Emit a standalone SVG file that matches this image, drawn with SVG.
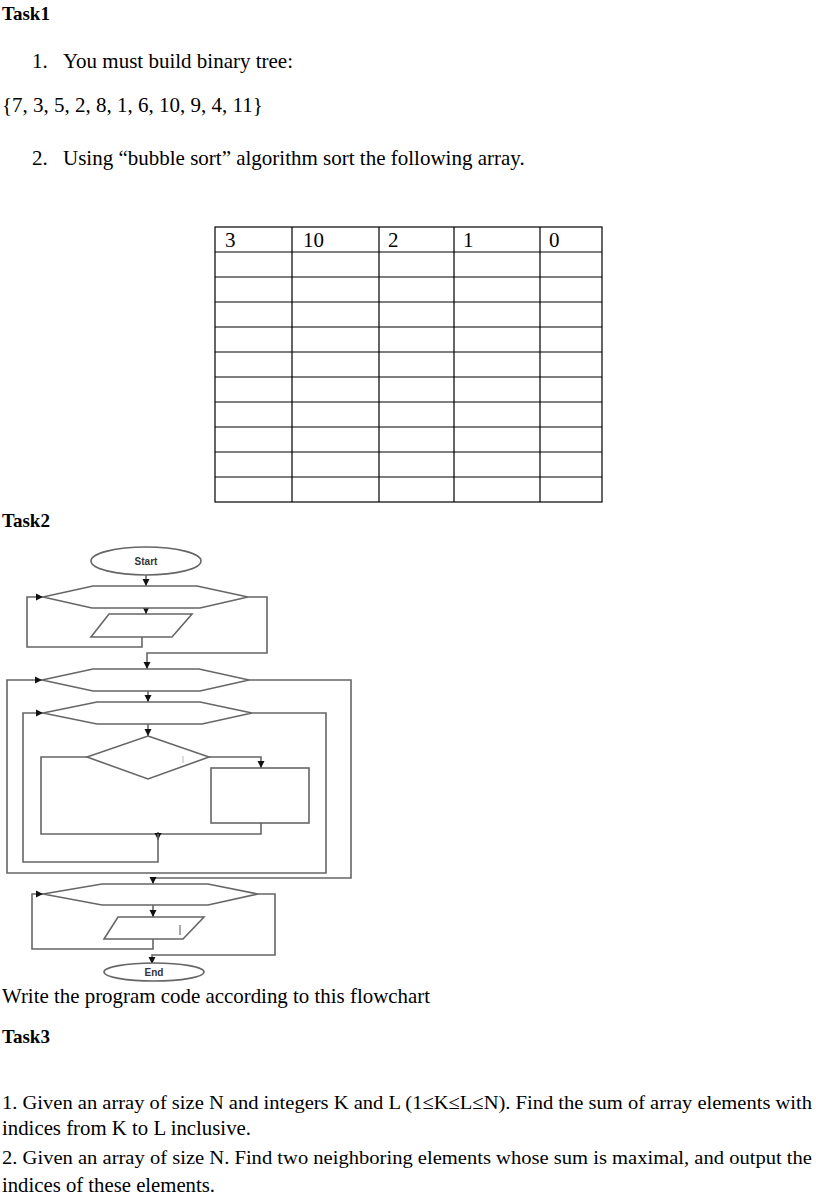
<svg xmlns="http://www.w3.org/2000/svg" width="816" height="1201" viewBox="0 0 816 1201">
<defs>
<marker id="ah" markerUnits="userSpaceOnUse" markerWidth="8" markerHeight="8" refX="7" refY="4" orient="auto">
<path d="M0,0.5 L7,4 L0,7.5 z" fill="#111"/>
</marker>
<style>
.t{font-family:"Liberation Serif","Times New Roman",serif;font-size:21px;fill:#000}
.b{font-family:"Liberation Serif","Times New Roman",serif;font-size:19px;font-weight:bold;fill:#000}
.c{font-family:"Liberation Serif","Times New Roman",serif;font-size:22px;fill:#000}
.c2{font-family:"Liberation Serif","Times New Roman",serif;font-size:19.5px;fill:#000}
.grid{stroke:#000;stroke-width:1.2;fill:none}
.sh{fill:#fff;stroke:#666;stroke-width:1.6}
.cn{fill:none;stroke:#666;stroke-width:1.6;marker-end:url(#ah)}
.ln{fill:none;stroke:#666;stroke-width:1.6}
.lb{font-family:"Liberation Sans",Arial,sans-serif;font-size:10px;font-weight:bold;fill:#333;text-anchor:middle}
</style>
</defs>
<rect width="816" height="1201" fill="#fff"/>

<g id="texts-top">
<text class="b" x="2" y="20">Task1</text>
<text class="t" x="32" y="68">1.</text>
<text class="t" x="63" y="68">You must build binary tree:</text>
<text class="t" x="2" y="112">{7, 3, 5, 2, 8, 1, 6, 10, 9, 4, 11}</text>
<text class="t" x="32" y="165">2.</text>
<text class="t" x="63" y="165">Using “bubble sort” algorithm sort the following array.</text>
</g>

<g id="table">
<rect class="grid" x="215" y="227" width="387" height="275"/>
<path class="grid" d="M292,227V502M379,227V502M454,227V502M540,227V502
M215,252H602M215,277H602M215,302H602M215,327H602M215,352H602M215,377H602M215,402H602M215,427H602M215,452H602M215,477H602"/>
<text class="t" x="225" y="247">3</text>
<text class="t" x="303" y="247">10</text>
<text class="t" x="388" y="247">2</text>
<text class="t" x="463" y="247">1</text>
<text class="t" x="549" y="247">0</text>
</g>

<text class="b" x="2" y="527">Task2</text>

<g id="connectors">
<path class="cn" d="M146,575V586"/>
<path class="cn" d="M146,608V614"/>
<path class="cn" d="M142,637V647H27V597H43"/>
<path class="cn" d="M248,597H267V653H147V669"/>
<path class="cn" d="M148,691V702"/>
<path class="cn" d="M148,724V736"/>
<path class="cn" d="M209,757H261V768"/>
<path class="ln" d="M87,757H41V834H158"/>
<path class="ln" d="M261,823V834H158"/>
<path class="cn" d="M158,832V840"/>
<path class="cn" d="M158,834V862H23V713H43"/>
<path class="cn" d="M252,713H326V873H7V680H42"/>
<path class="cn" d="M249,680H351V878H153V884"/>
<path class="cn" d="M153,905V917"/>
<path class="cn" d="M153,939V949H32V894H43"/>
<path class="cn" d="M258,894H275V955H152V964"/>
</g>

<g id="start">
<ellipse class="sh" cx="146" cy="561" rx="55" ry="14"/>
<text class="lb" x="146" y="565">Start</text>
</g>
<g id="loop1">
<polygon class="sh" points="43,597 93,586 197,586 248,597 200,608 92,608"/>
</g>
<g id="input1">
<polygon class="sh" points="109,614 192,614 172,637 91,637"/>
</g>
<g id="loop2">
<polygon class="sh" points="42,680 93,669 199,669 249,680 200,691 93,691"/>
</g>
<g id="loop3">
<polygon class="sh" points="43,713 97,702 200,702 252,713 202,724 97,724"/>
</g>
<g id="decision">
<polygon class="sh" points="148,736 209,757 148,779 87,757"/>
<line x1="183" y1="756" x2="183" y2="763" stroke="#bbb" stroke-width="1"/>
</g>
<g id="process">
<rect class="sh" x="211" y="768" width="98" height="55"/>
</g>
<g id="loop4">
<polygon class="sh" points="43,894 102,884 208,884 258,894 208,905 102,905"/>
</g>
<g id="output1">
<polygon class="sh" points="118,917 204,917 183,939 104,939"/>
<line x1="180" y1="925" x2="180" y2="935" stroke="#555" stroke-width="1"/>
</g>
<g id="end">
<ellipse class="sh" cx="154" cy="972" rx="50" ry="9"/>
<text class="lb" x="154" y="976">End</text>
</g>

<g id="texts-bottom">
<text class="c" x="2" y="1003" textLength="428" lengthAdjust="spacingAndGlyphs">Write the program code according to this flowchart</text>
<text class="b" x="2" y="1043">Task3</text>
<text class="c2" x="2" y="1109" textLength="810" lengthAdjust="spacingAndGlyphs">1. Given an array of size N and integers K and L (1≤K≤L≤N). Find the sum of array elements with</text>
<text class="c" x="2" y="1135" textLength="249" lengthAdjust="spacingAndGlyphs">indices from K to L inclusive.</text>
<text class="c2" x="2" y="1164" textLength="810" lengthAdjust="spacingAndGlyphs">2. Given an array of size N. Find two neighboring elements whose sum is maximal, and output the</text>
<text class="c" x="2" y="1192" textLength="213" lengthAdjust="spacingAndGlyphs">indices of these elements.</text>
</g>
</svg>
